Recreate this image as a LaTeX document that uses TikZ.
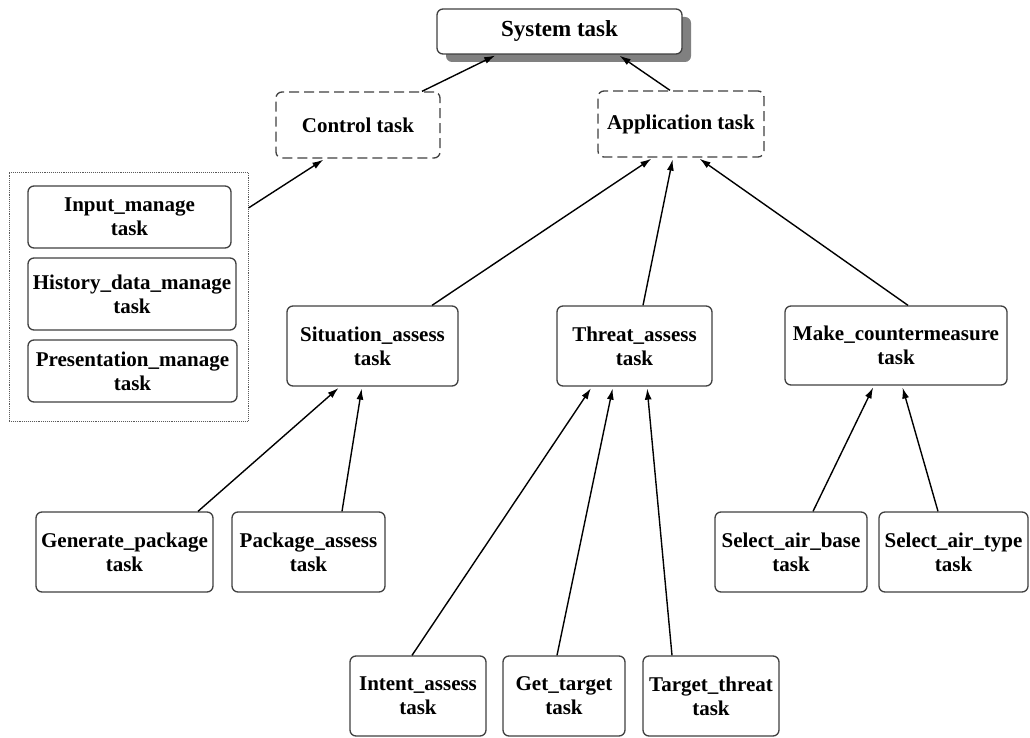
\documentclass[tikz,border=0pt]{standalone}
\usepackage{fontspec}
\setmainfont{Liberation Serif}
\usetikzlibrary{arrows.meta,shadows}

\begin{document}
\begin{tikzpicture}[x=1pt,y=-1pt,
    task/.style={draw=black!75,line width=1.3pt,rounded corners=6pt,fill=white,
      inner sep=0pt,align=center,font=\bfseries\fontsize{21}{24}\selectfont},
    subsys/.style={task,draw=black!75,dash pattern=on 10pt off 5pt},
    group/.style={draw=black!65,densely dotted,line width=0.9pt,inner sep=0pt},
    link/.style={-{Latex[length=11pt,width=7pt]},line width=1.4pt,shorten >=2pt}]
    \useasboundingbox (0,0) rectangle (1030,738);

    % System
    \node[task,minimum width=245pt,minimum height=45pt,
      font=\bfseries\fontsize{23}{26}\selectfont,
      copy shadow={shadow xshift=9pt,shadow yshift=-8pt,fill=black!50,draw=none}]
      (sys) at (559.5,31.5) {System task};

    % Control und Application
    \node[subsys,minimum width=164pt,minimum height=66pt] (ctrl) at (358,125) {Control task};
    \node[subsys,minimum width=166pt,minimum height=66pt] (app) at (681,124) {Application task};

    % Control-Gruppe
    \node[group,minimum width=239pt,minimum height=249pt] (grp) at (128.5,296.5) {};
    \node[task,minimum width=203pt,minimum height=62pt] (inp) at (129.5,217) {Input\_manage\\task};
    \node[task,minimum width=208pt,minimum height=72pt] (hist) at (132,294) {History\_data\_manage\\task};
    \node[task,minimum width=209pt,minimum height=62pt] (pres) at (132.5,371) {Presentation\_manage\\task};

    % Application-Aufgaben
    \node[task,minimum width=171pt,minimum height=80pt] (sit) at (372.5,346) {Situation\_assess\\task};
    \node[task,minimum width=155pt,minimum height=80pt] (thr) at (634.5,346) {Threat\_assess\\task};
    \node[task,minimum width=222pt,minimum height=79pt] (make) at (896,345.5) {Make\_countermeasure\\task};

    % untere Ebene
    \node[task,minimum width=177pt,minimum height=80pt] (gen) at (124.5,552) {Generate\_package\\task};
    \node[task,minimum width=153pt,minimum height=80pt] (pack) at (308.5,552) {Package\_assess\\task};
    \node[task,minimum width=152pt,minimum height=80pt] (base) at (791,552) {Select\_air\_base\\task};
    \node[task,minimum width=149pt,minimum height=80pt] (type) at (953.5,552) {Select\_air\_type\\task};
    \node[task,minimum width=136pt,minimum height=80pt] (intent) at (418,696) {Intent\_assess\\task};
    \node[task,minimum width=122pt,minimum height=80pt] (get) at (564,696) {Get\_target\\task};
    \node[task,minimum width=136pt,minimum height=80pt] (tthr) at (711,696) {Target\_threat\\task};

    % Pfeile
    \draw[link] ([xshift=64pt]ctrl.north) -- ([xshift=-62.5pt]sys.south);
    \draw[link] ([xshift=-11pt]app.north) -- ([xshift=58.5pt]sys.south);
    \draw[link] ([yshift=88.5pt]grp.east) -- ([xshift=-33pt]ctrl.south);
    \draw[link] ([xshift=59.5pt]sit.north) -- ([xshift=-28pt]app.south);
    \draw[link] ([xshift=8.5pt]thr.north) -- ([xshift=-8pt]app.south);
    \draw[link] ([xshift=12pt]make.north) -- ([xshift=17pt]app.south);
    \draw[link] ([xshift=73.5pt]gen.north) -- ([xshift=-32.5pt]sit.south);
    \draw[link] ([xshift=33.5pt]pack.north) -- ([xshift=-10.5pt]sit.south);
    \draw[link] ([xshift=-6pt]intent.north) -- ([xshift=-42.5pt]thr.south);
    \draw[link] ([xshift=-7pt]get.north) -- ([xshift=-21.5pt]thr.south);
    \draw[link] ([xshift=-39pt]tthr.north) -- ([xshift=12.5pt]thr.south);
    \draw[link] ([xshift=22pt]base.north) -- ([xshift=-22pt]make.south);
    \draw[link] ([xshift=-15.5pt]type.north) -- ([xshift=6pt]make.south);
\end{tikzpicture}
\end{document}
